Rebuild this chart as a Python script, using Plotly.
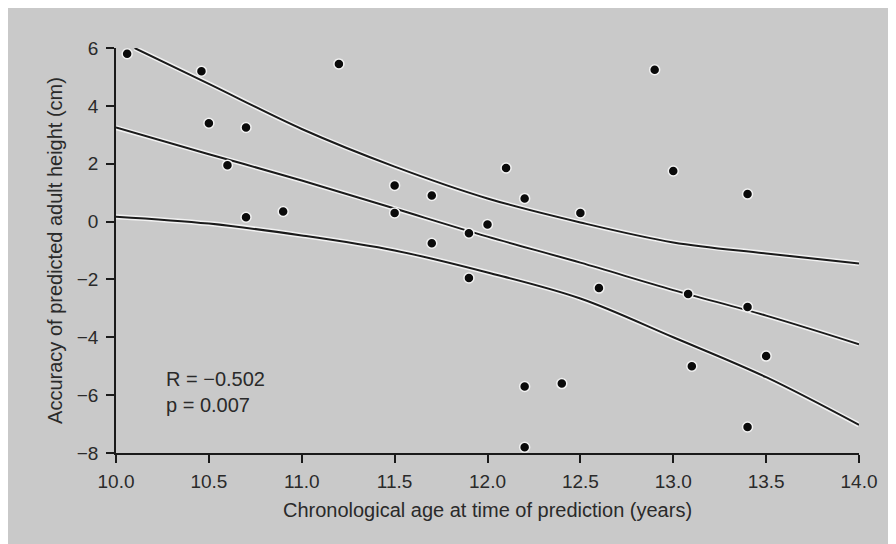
import plotly.graph_objects as go

# Scatter data: chronological age (years) vs accuracy of predicted adult height (cm)
age = [10.06, 10.46, 10.5, 10.7, 10.6, 10.7, 10.9, 11.2, 11.5, 11.5,
       11.7, 11.7, 11.9, 11.9, 12.0, 12.1, 12.2, 12.5, 12.6, 12.2,
       12.4, 12.2, 12.9, 13.0, 13.08, 13.1, 13.4, 13.4, 13.4, 13.5]
accuracy = [5.8, 5.2, 3.4, 3.25, 1.95, 0.15, 0.35, 5.45, 1.25, 0.3,
            0.9, -0.75, -0.4, -1.95, -0.1, 1.85, 0.8, 0.3, -2.3, -5.7,
            -5.6, -7.8, 5.25, 1.75, -2.5, -5.0, 0.95, -2.95, -7.1, -4.65]

# Regression line and confidence band
fit_x = [10.0, 10.5, 11.0, 11.5, 12.0, 12.5, 13.0, 13.5, 14.0]
fit_mid = [3.25, 2.33, 1.42, 0.45, -0.52, -1.42, -2.37, -3.25, -4.24]
upper_x = [10.1, 10.5, 11.0, 11.5, 12.0, 12.5, 13.0, 13.5, 14.0]
upper_y = [6.0, 4.76, 3.2, 1.9, 0.8, -0.03, -0.72, -1.1, -1.45]
lower_y = [0.17, -0.07, -0.48, -1.0, -1.76, -2.66, -4.0, -5.38, -7.03]

x_ticks = [10.0, 10.5, 11.0, 11.5, 12.0, 12.5, 13.0, 13.5, 14.0]
y_ticks = [-8, -6, -4, -2, 0, 2, 4, 6]

stats_text = "R = \u22120.502<br>p = 0.007"

BG = "#c9c9c9"
INK = "#1a1a1a"
TXT = "#2a2a2a"
FONT = "Liberation Sans, Arial, sans-serif"

fig = go.Figure()

for xs, ys in [(upper_x, upper_y), (fit_x, fit_mid), (fit_x, lower_y)]:
    fig.add_trace(go.Scatter(x=xs, y=ys, mode="lines", line=dict(color="#f2f2f2", width=5, shape="spline"),
                             hoverinfo="skip", showlegend=False))
    fig.add_trace(go.Scatter(x=xs, y=ys, mode="lines", line=dict(color=INK, width=2, shape="spline"),
                             showlegend=False))

fig.add_trace(go.Scatter(x=age, y=accuracy, mode="markers",
                         marker=dict(color="#0a0a0a", size=10, line=dict(color="#f2f2f2", width=1.5)),
                         showlegend=False, cliponaxis=False))

fig.add_annotation(x=10.26, y=-5.9, xref="x", yref="y", text=stats_text, showarrow=False,
                   xanchor="left", yanchor="middle", align="left",
                   font=dict(family=FONT, size=20, color=TXT))

fig.update_layout(
    width=896, height=544,
    margin=dict(l=108, r=45, t=40, b=99),
    paper_bgcolor=BG, plot_bgcolor=BG,
    font=dict(family=FONT, size=19, color=TXT),
    xaxis=dict(range=[10, 14], tickvals=x_ticks, ticktext=[f"{v:.1f}" for v in x_ticks],
               showgrid=False, zeroline=False, showline=True, linecolor=INK, linewidth=1.5,
               ticks="outside", ticklen=8, tickwidth=1.5, tickcolor=INK, ticklabelstandoff=2,
               title=dict(text="Chronological age at time of prediction (years)", standoff=12,
                          font=dict(size=20))),
    yaxis=dict(range=[-8, 6], tickvals=y_ticks, ticktext=[("\u2212" + str(-v)) if v < 0 else str(v) for v in y_ticks],
               showgrid=False, zeroline=False, showline=True, linecolor=INK, linewidth=1.5,
               ticks="outside", ticklen=8, tickwidth=1.5, tickcolor=INK, ticklabelstandoff=4,
               title=dict(text="Accuracy of predicted adult height (cm)", standoff=9,
                          font=dict(size=20))),
)

fig.write_html("out.html")
